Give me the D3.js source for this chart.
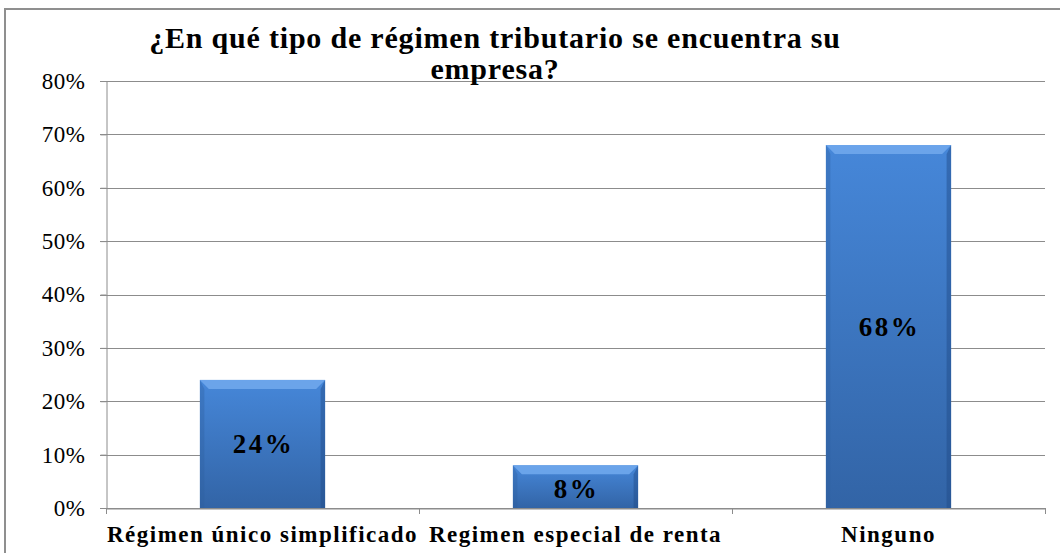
<!DOCTYPE html>
<html>
<head>
<meta charset="utf-8">
<script src="https://cdn.jsdelivr.net/npm/d3@7"></script>
<style>
  body { margin: 0; background: #fff; }
  svg { display: block; }
</style>
</head>
<body>
<svg id="chart"></svg>
<script>
const categories = ['Régimen único simplificado', 'Regimen especial de renta', 'Ninguno'];
const values = [0.24, 0.08, 0.68];
const valueLabels = ['24%', '8%', '68%'];
const yTicks = [0, 0.1, 0.2, 0.3, 0.4, 0.5, 0.6, 0.7, 0.8];
const titleLines = ['¿En qué tipo de régimen tributario se encuentra su', 'empresa?'];

const width = 1060;
const height = 553;
const margin = {top: 81, right: 15, bottom: 45, left: 106};
const font = 'Liberation Serif, Tinos, DejaVu Serif, serif';

const svg = d3.select('#chart')
  .attr('width', width)
  .attr('height', height);

// outer frame
svg.append('rect')
  .attr('x', 5)
  .attr('y', 9)
  .attr('width', width + 20)
  .attr('height', height + 20)
  .style('fill', 'none')
  .style('stroke', '#8f8f8f')
  .style('stroke-width', 2);

const x = d3.scaleBand()
  .domain(categories)
  .range([margin.left, width - margin.right])
  .paddingInner(0.6)
  .paddingOuter(0.3);

const y = d3.scaleLinear()
  .domain([0, 0.8])
  .range([height - margin.bottom, margin.top]);

// gradients
const defs = svg.append('defs');
const grad = defs.append('linearGradient')
  .attr('id', 'barGrad')
  .attr('x1', 0).attr('y1', 0).attr('x2', 0).attr('y2', 1);
grad.append('stop').attr('offset', '0%').attr('stop-color', '#4687d9');
grad.append('stop').attr('offset', '100%').attr('stop-color', '#3264a6');

// gridlines
svg.append('g')
  .selectAll('line')
  .data(yTicks)
  .join('line')
  .attr('x1', margin.left - 6)
  .attr('x2', width - margin.right)
  .attr('y1', d => Math.round(y(d)) + 0.5)
  .attr('y2', d => Math.round(y(d)) + 0.5)
  .style('stroke', '#8c8c8c')
  .style('stroke-width', 1);

// y axis
const yAxis = svg.append('g')
  .attr('transform', `translate(${margin.left + 0.5},0)`)
  .call(d3.axisLeft(y).tickValues(yTicks).tickFormat(d3.format('.0%')).tickSize(6));
yAxis.select('.domain').style('stroke', '#8c8c8c');
yAxis.selectAll('.tick line').style('stroke', '#8c8c8c');
yAxis.selectAll('.tick text')
  .attr('x', -21)
  .style('font-family', font)
  .style('font-size', '23px')
  .style('letter-spacing', '0.5px')
  .style('fill', '#000');

// x axis
const xAxis = svg.append('g')
  .attr('transform', `translate(0,${Math.round(y(0)) + 0.5})`)
  .call(d3.axisBottom(x).tickSize(0).tickPadding(17));
xAxis.select('.domain').style('stroke', '#8c8c8c');
xAxis.selectAll('.tick text')
  .style('font-family', font)
  .style('font-size', '23px')
  .style('font-weight', 'bold')
  .style('letter-spacing', '1.5px')
  .style('fill', '#000');

// category separators
const seps = d3.range(categories.length + 1).map(i => margin.left + i * (width - margin.left - margin.right) / categories.length);
svg.append('g')
  .selectAll('line')
  .data(seps)
  .join('line')
  .attr('x1', d => Math.round(d) + 0.5)
  .attr('x2', d => Math.round(d) + 0.5)
  .attr('y1', y(0))
  .attr('y2', y(0) + 6)
  .style('stroke', '#8c8c8c');

// bars
const bars = svg.append('g')
  .selectAll('g')
  .data(categories.map((c, i) => ({c, v: values[i], label: valueLabels[i]})))
  .join('g');

const bevel = 9;

bars.append('rect')
  .attr('x', d => x(d.c))
  .attr('y', d => y(d.v))
  .attr('width', x.bandwidth())
  .attr('height', d => y(0) - y(d.v))
  .style('fill', 'url(#barGrad)');

// top bevel
bars.append('path')
  .attr('d', d => {
    const x0 = x(d.c), x1 = x0 + x.bandwidth(), t = y(d.v);
    return `M${x0},${t}L${x1},${t}L${x1 - bevel},${t + bevel}L${x0 + bevel},${t + bevel}Z`;
  })
  .style('fill', '#6fa7ec')
  .style('opacity', 0.9);

// left bevel
bars.append('path')
  .attr('d', d => {
    const x0 = x(d.c), t = y(d.v), b = y(0);
    return `M${x0},${t}L${x0 + bevel / 2},${t + bevel}L${x0 + bevel / 2},${b}L${x0},${b}Z`;
  })
  .style('fill', '#2f5f9f')
  .style('opacity', 0.35);

// right bevel
bars.append('path')
  .attr('d', d => {
    const x1 = x(d.c) + x.bandwidth(), t = y(d.v), b = y(0);
    return `M${x1},${t}L${x1 - bevel / 2},${t + bevel}L${x1 - bevel / 2},${b}L${x1},${b}Z`;
  })
  .style('fill', '#1f4a85')
  .style('opacity', 0.45);

// value labels
bars.append('text')
  .attr('x', d => x(d.c) + x.bandwidth() / 2 + 1)
  .attr('y', d => (y(d.v) + y(0)) / 2 + (d.v < 0.1 ? 2 : 0))
  .attr('dy', '0.35em')
  .attr('text-anchor', 'middle')
  .style('font-family', font)
  .style('font-size', '27px')
  .style('font-weight', 'bold')
  .style('letter-spacing', '2.5px')
  .style('fill', '#000')
  .text(d => d.label);

// title
svg.append('g')
  .selectAll('text')
  .data(titleLines)
  .join('text')
  .attr('x', 495)
  .attr('y', (d, i) => 48 + i * 31)
  .attr('text-anchor', 'middle')
  .style('font-family', font)
  .style('font-size', '30px')
  .style('font-weight', 'bold')
  .style('letter-spacing', '0.8px')
  .style('fill', '#000')
  .text(d => d);
</script>
</body>
</html>
